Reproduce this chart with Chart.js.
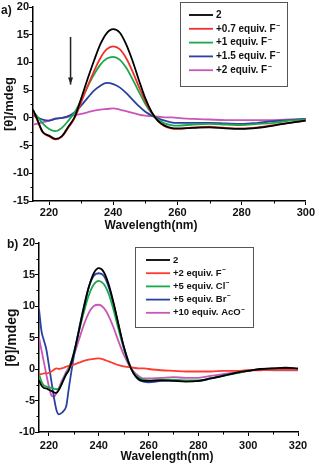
<!DOCTYPE html>
<html>
<head>
<meta charset="utf-8">
<script src="https://cdn.jsdelivr.net/npm/chart.js@4.4.1/dist/chart.umd.min.js"></script>
<style>
  html, body { margin: 0; padding: 0; background: #fff; }
  #wrapA { position: absolute; left: 0; top: 0; width: 316px; height: 232px; }
  #wrapB { position: absolute; left: 0; top: 232px; width: 316px; height: 233px; }
</style>
</head>
<body>
<div id="wrapA"><canvas id="chartA"></canvas></div>
<div id="wrapB"><canvas id="chartB"></canvas></div>
<script>
// ---- panel a: titration with F- ----
const wlA = [215, 216, 218, 220, 222, 224, 226, 228, 230, 232, 234, 236, 238, 240, 242, 244, 246, 248, 250, 252, 254, 256, 258, 260, 265, 270, 275, 280, 285, 290, 295, 300];
const a_2    = [1.5, 0.2, -2.5, -3.2, -3.8, -3.3, -1.6, 0.2, 3.5, 7.0, 10.3, 13.3, 15.3, 16.0, 15.4, 13.3, 10.3, 6.8, 3.5, 1.0, -0.6, -1.4, -1.8, -1.9, -1.8, -1.7, -1.9, -2.0, -1.8, -1.4, -0.9, -0.5];
const a_F07  = [1.0, 0.0, -2.6, -3.3, -3.9, -3.4, -1.8, 0.0, 2.8, 5.7, 8.4, 10.8, 12.4, 12.9, 12.4, 10.8, 8.4, 5.6, 3.0, 0.9, -0.6, -1.5, -1.9, -2.0, -1.7, -1.6, -1.8, -1.9, -1.7, -1.3, -0.9, -0.5];
const a_F1   = [1.0, 0.5, -1.0, -2.0, -2.4, -1.8, -0.5, 1.0, 3.2, 5.6, 7.8, 9.6, 10.7, 11.0, 10.5, 9.1, 7.0, 4.7, 2.5, 0.8, -0.3, -1.0, -1.3, -1.4, -1.2, -1.1, -1.2, -1.3, -1.1, -0.9, -0.5, -0.3];
const a_F15  = [0.5, 0.2, -0.3, -0.5, -0.2, 0.0, 0.3, 1.0, 2.2, 3.6, 4.9, 5.8, 6.3, 6.1, 5.5, 4.5, 3.3, 2.1, 1.1, 0.4, -0.1, -0.5, -0.8, -0.9, -0.9, -0.9, -1.0, -1.1, -0.9, -0.6, -0.4, -0.2];
const a_F2   = [-1.2, -1.1, -0.8, -0.5, -0.1, 0.0, 0.2, 0.5, 0.7, 1.0, 1.3, 1.5, 1.6, 1.7, 1.5, 1.2, 0.9, 0.6, 0.4, 0.3, 0.2, 0.1, 0.1, 0.0, -0.2, -0.3, -0.4, -0.4, -0.4, -0.4, -0.3, -0.2];
const labelsA = ['2', '+0.7 equiv. F\u207B', '+1 equiv. F\u207B', '+1.5 equiv. F\u207B', '+2 equiv. F\u207B'];
const colorsA = ['#000000', '#f2302b', '#1aa84a', '#2a41a0', '#c956b8'];
const xTicksA = [220, 240, 260, 280, 300];
const xMinorA = [230, 250, 270, 290];
const yMinorA = [-12.5, -7.5, -2.5, 2.5, 7.5, 12.5, 17.5];

// ---- panel b: other anions ----
const wlB = [216, 217, 218, 219, 220, 221, 222, 223, 224, 225, 226, 227, 228, 230, 232, 234, 236, 238, 240, 242, 244, 246, 248, 250, 252, 254, 256, 258, 260, 265, 270, 275, 280, 285, 290, 295, 300, 305, 310, 315, 320];
const b_2    = [-1.8, -2.6, -3.0, -3.1, -3.3, -3.5, -3.7, -3.8, -3.3, -2.5, -1.6, -0.8, -0.2, 2.5, 6.0, 9.7, 13.0, 15.2, 16.0, 15.4, 13.4, 10.4, 6.9, 3.6, 1.0, -0.7, -1.6, -1.9, -1.9, -1.8, -1.9, -2.0, -1.9, -1.5, -1.1, -0.6, -0.3, 0.0, 0.1, 0.2, 0.1];
const b_F    = [-0.8, -0.8, -0.7, -0.7, -0.6, -0.4, -0.1, 0.1, 0.0, 0.1, 0.2, 0.4, 0.5, 0.7, 1.0, 1.3, 1.5, 1.6, 1.7, 1.5, 1.2, 0.9, 0.6, 0.4, 0.3, 0.2, 0.1, 0.1, 0.0, -0.2, -0.3, -0.4, -0.4, -0.4, -0.3, -0.3, -0.2, -0.2, -0.1, -0.1, -0.1];
const b_Cl   = [-0.8, -2.0, -2.6, -2.8, -2.9, -3.0, -3.1, -3.2, -3.1, -2.4, -1.5, -0.7, 0.0, 2.6, 5.9, 9.0, 11.7, 13.4, 14.0, 13.5, 11.9, 9.3, 6.2, 3.3, 0.9, -0.6, -1.4, -1.7, -1.8, -1.7, -1.7, -1.8, -1.8, -1.5, -1.1, -0.7, -0.3, -0.1, -0.1, -0.1, -0.1];
const b_Br   = [9.5, 6.0, 4.5, 3.0, 0.5, -2.0, -4.5, -6.5, -7.2, -7.0, -6.6, -5.8, -3.0, 2.0, 6.2, 9.9, 13.0, 14.8, 15.2, 14.8, 13.0, 10.2, 6.9, 3.6, 1.1, -0.7, -1.7, -2.0, -2.1, -1.9, -1.8, -1.9, -1.9, -1.5, -1.0, -0.6, -0.3, 0.0, 0.1, 0.1, 0.0];
const b_AcO  = [5.0, 3.0, 1.0, -1.0, -2.8, -4.2, -4.4, -3.8, -3.0, -2.0, -1.2, -0.4, 0.3, 2.2, 4.6, 7.0, 8.9, 10.0, 10.2, 9.7, 8.4, 6.5, 4.3, 2.3, 0.7, -0.4, -1.1, -1.5, -1.5, -1.4, -1.3, -1.4, -1.4, -1.1, -0.8, -0.5, -0.2, -0.1, -0.2, -0.2, -0.2];
const labelsB = ['2', '+2 equiv. F\u207B', '+5 equiv. Cl\u207B', '+5 equiv. Br\u207B', '+10 equiv. AcO\u207B'];
const colorsB = ['#000000', '#ff3a30', '#1aa84a', '#2a41a0', '#c956b8'];
const xTicksB = [220, 240, 260, 280, 300, 320];
const xMinorB = [230, 250, 270, 290, 310];
const yMinorB = [-7.5, -2.5, 2.5, 7.5, 12.5, 17.5];

const FONT = '"Liberation Sans", Arial, sans-serif';

function makeSet(label, xs, ys, color) {
    return {
        label: label,
        data: xs.map((x, i) => ({ x: x, y: ys[i] })),
        borderColor: color,
        borderWidth: 1.8,
        pointRadius: 0,
        fill: false,
        cubicInterpolationMode: 'monotone'
    };
}

// boxed legend drawn from the datasets
const boxLegend = {
    id: 'boxLegend',
    afterDraw(chart, args, opts) {
        const ctx = chart.ctx;
        ctx.save();
        ctx.fillStyle = '#fff';
        ctx.fillRect(opts.x, opts.y, opts.w, opts.h);
        ctx.strokeStyle = '#555';
        ctx.lineWidth = 1;
        ctx.strokeRect(opts.x + 0.5, opts.y + 0.5, opts.w, opts.h);
        ctx.textBaseline = 'middle';
        chart.data.datasets.forEach((ds, i) => {
            const yy = opts.rowY + i * opts.rowH;
            ctx.strokeStyle = ds.borderColor;
            ctx.lineWidth = 1.8;
            ctx.beginPath();
            ctx.moveTo(opts.lineX1, yy);
            ctx.lineTo(opts.lineX2, yy);
            ctx.stroke();
            ctx.fillStyle = '#111';
            ctx.font = 'bold ' + opts.size + 'px ' + FONT;
            let txt = ds.label;
            const sup = txt.endsWith('\u207B');
            if (sup) txt = txt.slice(0, -1);
            ctx.fillText(txt, opts.textX, yy);
            if (sup) {
                const w = ctx.measureText(txt).width;
                ctx.font = 'bold ' + (opts.size * 0.7) + 'px ' + FONT;
                ctx.fillText('\u2212', opts.textX + w + 0.5, yy - 3);
            }
        });
        ctx.restore();
    }
};

// minor ticks, outward
const minorTicks = {
    id: 'minorTicks',
    afterDraw(chart, args, opts) {
        const { ctx, scales: { x, y } } = chart;
        ctx.save();
        ctx.strokeStyle = '#000';
        ctx.lineWidth = 1;
        ctx.beginPath();
        opts.xs.forEach(v => {
            const px = Math.round(x.getPixelForValue(v)) + 0.5;
            ctx.moveTo(px, x.top);
            ctx.lineTo(px, x.top + 2.5);
        });
        opts.ys.forEach(v => {
            const py = Math.round(y.getPixelForValue(v)) + 0.5;
            ctx.moveTo(y.right, py);
            ctx.lineTo(y.right - 2.5, py);
        });
        ctx.stroke();
        ctx.restore();
    }
};

// panel tag, x title and arrow
const extras = {
    id: 'extras',
    afterDraw(chart, args, opts) {
        const { ctx, scales: { x, y } } = chart;
        ctx.save();
        ctx.fillStyle = '#111';
        ctx.font = 'bold 12px ' + FONT;
        ctx.textBaseline = 'middle';
        ctx.fillText(opts.tag, opts.tagX, opts.tagY);
        ctx.textAlign = 'center';
        ctx.fillText('Wavelength(nm)', opts.titleX, opts.titleY);
        if (opts.arrow) {
            const ax = x.getPixelForValue(opts.arrow.x);
            const y1 = y.getPixelForValue(opts.arrow.y1);
            const y2 = y.getPixelForValue(opts.arrow.y2);
            ctx.strokeStyle = '#222';
            ctx.lineWidth = 1.5;
            ctx.beginPath();
            ctx.moveTo(ax, y1);
            ctx.lineTo(ax, y2);
            ctx.stroke();
            ctx.fillStyle = '#222';
            ctx.beginPath();
            ctx.moveTo(ax - 2.5, y2 - 7);
            ctx.lineTo(ax, y2);
            ctx.lineTo(ax + 2.5, y2 - 7);
            ctx.closePath();
            ctx.fill();
        }
        ctx.restore();
    }
};

function buildChart(canvasId, p) {
    return new Chart(document.getElementById(canvasId), {
        type: 'line',
        data: { datasets: p.datasets },
        options: {
            responsive: true,
            maintainAspectRatio: false,
            animation: false,
            layout: { padding: p.padding },
            plugins: {
                legend: { display: false },
                tooltip: { enabled: false },
                boxLegend: p.legend,
                minorTicks: { xs: p.xMinor, ys: p.yMinor },
                extras: p.extras
            },
            scales: {
                x: {
                    type: 'linear',
                    min: p.xMin,
                    max: p.xMax,
                    afterBuildTicks: (scale) => { scale.ticks = p.xTicks.map(v => ({ value: v })); },
                    afterFit: (scale) => { scale.height = p.xHeight; },
                    grid: { drawOnChartArea: false, drawTicks: true, tickLength: 4, tickColor: '#000', tickWidth: 1 },
                    border: { display: true, color: '#000', width: 1.5 },
                    ticks: { color: '#111', font: { family: FONT, size: 11, weight: 'bold' }, padding: p.xTickPad, maxRotation: 0, autoSkip: false },
                    title: { display: false }
                },
                y: {
                    min: p.yMin,
                    max: p.yMax,
                    ticks: { stepSize: 5, color: '#111', font: { family: FONT, size: 11, weight: 'bold' }, padding: 0 },
                    afterFit: (scale) => { scale.width = p.yWidth; },
                    grid: { drawOnChartArea: false, drawTicks: true, tickLength: 4, tickColor: '#000', tickWidth: 1 },
                    border: { display: true, color: '#000', width: 1.5 },
                    title: { display: true, text: '[\u03B8]/mdeg', color: '#111', font: { family: FONT, size: p.yTitleSize, weight: 'bold' }, padding: { top: p.yTitlePad, bottom: 0 } }
                }
            }
        },
        plugins: [minorTicks, boxLegend, extras]
    });
}

const setsA = [a_2, a_F07, a_F1, a_F15, a_F2].map((ys, i) => makeSet(labelsA[i], wlA, ys, colorsA[i]));
const setsB = [b_2, b_F, b_Cl, b_Br, b_AcO].map((ys, i) => makeSet(labelsB[i], wlB, ys, colorsB[i]));

buildChart('chartA', {
    datasets: setsA,
    padding: { top: 7, right: 10, left: 0, bottom: 0 },
    xMin: 215, xMax: 300, xTicks: xTicksA, xMinor: xMinorA,
    yMin: -15, yMax: 20, yMinor: yMinorA,
    xHeight: 31, yWidth: 33, xTickPad: 1,
    yTitleSize: 13, yTitlePad: 2,
    legend: { x: 180, y: 2, w: 107, h: 84, rowY: 15, rowH: 13.8, lineX1: 189, lineX2: 213, textX: 216, size: 10 },
    extras: { tag: 'a)', tagX: 1, tagY: 11, titleX: 151, titleY: 226, arrow: { x: 226.7, y1: 14.6, y2: 6.0 } }
});

buildChart('chartB', {
    datasets: setsB,
    padding: { top: 11, right: 18, left: 0, bottom: 0 },
    xMin: 216, xMax: 320, xTicks: xTicksB, xMinor: xMinorB,
    yMin: -10, yMax: 20, yMinor: yMinorB,
    xHeight: 33, yWidth: 39, xTickPad: 3,
    yTitleSize: 14, yTitlePad: 4,
    legend: { x: 135, y: 15, w: 118, h: 80, rowY: 28, rowH: 13.2, lineX1: 146, lineX2: 170, textX: 173, size: 9.5 },
    extras: { tag: 'b)', tagX: 7, tagY: 13, titleX: 167, titleY: 225 }
});
</script>
</body>
</html>
